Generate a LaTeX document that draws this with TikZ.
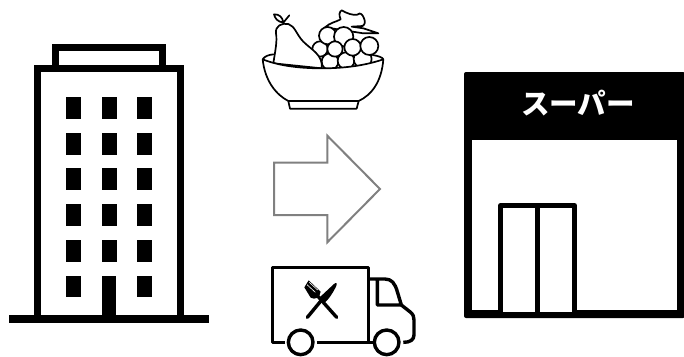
\documentclass[tikz,border=0pt]{standalone}
\usepackage{fontspec}
\newfontfamily\cjk{Noto Sans CJK JP}
\definecolor{ArrowGray}{RGB}{128,128,128}
\begin{document}
\begin{tikzpicture}[x=1pt,y=-1pt,
	pane/.style={fill=black},
	wall/.style={draw=black,line width=7pt,fill=white},
	doorline/.style={draw=black,line width=5pt,line join=round},
	iconline/.style={draw=black,line width=1.7pt,line join=round,line cap=round,fill=white},
	truckline/.style={draw=black,line width=3.4pt,line join=round},
	zoomed/.style={x=0.3333pt,y=-0.3333pt},
	signtext/.style={text=white,font=\cjk\bfseries\fontsize{28.5}{28.5}\selectfont,inner sep=0pt}]
\useasboundingbox (0,0) rectangle (684,356);
% office block
\draw[wall] (55.7,68) -- (55.7,47) -- (162.5,47) -- (162.5,68);
\draw[wall] (37.7,319) -- (37.7,68.5) -- (180.5,68.5) -- (180.5,319);
\draw[draw=black,line width=7.6pt] (9,319) -- (209,319);
\foreach \x in {66,102,137}\foreach \y in {97,133,168,204,240}\fill[pane] (\x,\y) rectangle ++(15,22);
\fill[pane] (66,276) rectangle ++(15,21);
\fill[pane] (137,276) rectangle ++(15,21);
\fill[pane] (102,276) rectangle (116,316);
% fruit bowl
\begin{scope}[shift={(240,0)},zoomed]
\draw[iconline,fill=none] (68,178) .. controls (75,168) and (85,165) .. (100,163);
\draw[iconline,fill=none] (398,165) .. controls (415,168) and (428,172) .. (430,178);
\draw[iconline] (255,82) .. controls (270,68) and (290,65) .. (302,58) .. controls (296,45) and (298,35) .. (305,31) .. controls (320,40) and (340,47) .. (352,44) .. controls (362,35) and (368,45) .. (372,55) .. controls (376,65) and (376,72) .. (368,78) -- (335,80) -- (370,85) -- (415,100) -- (370,100) -- cycle;
\foreach \x/\y/\r in {240/147/23,270/185/25,318/182/25,368/177/27}\draw[iconline] (\x,\y) circle[radius=\r];
\foreach \x/\y/\r in {263/107/26,311/110/29,338/142/25,285/147/23,388/138/27}\draw[iconline] (\x,\y) circle[radius=\r];
\draw[iconline] (100,190) .. controls (106,150) and (112,125) .. (108,100) .. controls (105,78) and (125,68) .. (145,72) .. controls (165,78) and (170,105) .. (190,125) .. controls (215,150) and (250,165) .. (245,205) -- cycle;
\draw[iconline] (130,68) .. controls (112,65) and (105,55) .. (102,43) .. controls (118,42) and (128,52) .. (130,68) -- (148,46);
\draw[iconline] (145,303) -- (150,326) -- (350,326) -- (356,303);
\draw[iconline] (68,178) .. controls (75,245) and (110,285) .. (145,303) -- (356,303) .. controls (395,285) and (425,245) .. (430,178) .. controls (380,195) and (320,205) .. (245,205) .. controls (170,205) and (110,195) .. (68,178) -- cycle;
\end{scope}
% arrow
\draw[draw=ArrowGray,line width=2pt,fill=white] (274,162.7) -- (327.3,162.7) -- (327.3,135.7) -- (380,189) -- (327.3,242.3) -- (327.3,215) -- (274,215) -- cycle;
% delivery truck
\begin{scope}[shift={(260,255)},zoomed]
\draw[truckline] (75,262) -- (38,262) -- (38,37) -- (325,37) -- (325,262);
\draw[truckline] (170,262) -- (342,262);
\draw[truckline] (325,72) -- (375,72) .. controls (395,72) and (405,85) .. (412,110) -- (424,150) -- (352,150) -- (352,72);
\draw[truckline] (424,150) -- (452,172) .. controls (460,180) and (462,185) .. (462,195) -- (462,240) .. controls (462,255) and (450,262) .. (430,262);
\draw[truckline] (122,262) circle[radius=37];
\draw[truckline] (380,262) circle[radius=37];
\draw[draw=black,line width=3.4pt,line cap=round] (142,187) -- (185,135);
\fill (178,128) -- (222,87) .. controls (230,80) and (232,86) .. (228,95) .. controls (218,115) and (205,135) .. (192,145) -- cycle;
\draw[draw=black,line width=3.4pt,line cap=round] (230,187) -- (172,122);
\fill (133,97) -- (146,76) -- (182,110) .. controls (180,128) and (165,136) .. (152,128) -- cycle;
\foreach \a/\b/\c/\d in {141/89/166/112,148/82/173/105}\draw[draw=white,line width=0.6pt] (\a,\b) -- (\c,\d);
\end{scope}
% supermarket
\fill[rounded corners=2pt] (464,72) rectangle (685,318);
\fill[white] (472,140) rectangle (677,310);
\draw[doorline,fill=white] (500.7,312) -- (500.7,205.5) -- (574.5,205.5) -- (574.5,312);
\draw[doorline] (537.3,205.5) -- (537.3,312);
\node[signtext] (signlabel) at (578,103) {スーパー};
\end{tikzpicture}
\end{document}
